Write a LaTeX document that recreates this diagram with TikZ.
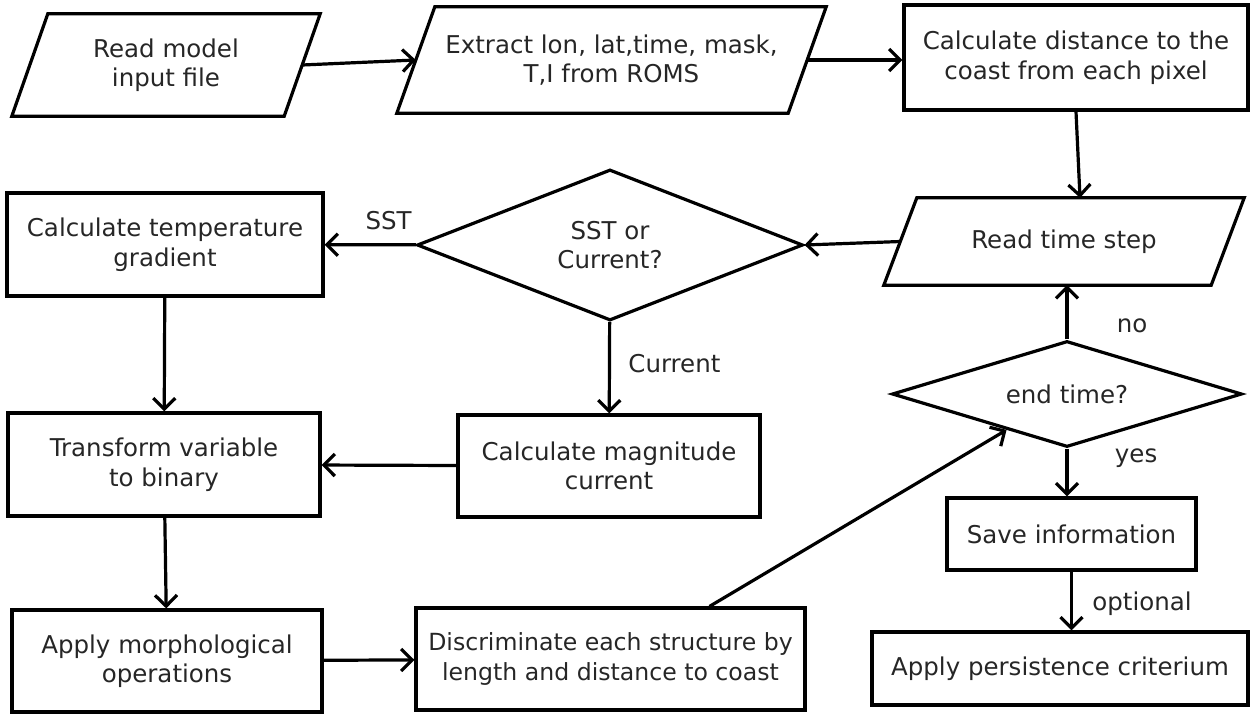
\documentclass[tikz,border=0pt]{standalone}
\usepackage{fontspec}
\setmainfont{DejaVu Sans}
\usetikzlibrary{shapes.geometric,arrows.meta}
\begin{document}
\begin{tikzpicture}[x=1pt,y=-1pt,
  every node/.style={font=\fontsize{24.5}{29.5}\selectfont, text=black!85, align=center},
  proc/.style={draw=black, line width=3.2pt, rectangle, inner sep=0pt},
  iobox/.style={rectangle, inner sep=0pt},
  dec/.style={draw=black, line width=3.2pt, diamond, inner sep=0pt},
  lbl/.style={font=\fontsize{24.5}{29.5}\selectfont},
  outline/.style={line width=3.2pt, line join=miter},
  flow/.style={line width=3.2pt, -{Straight Barb[length=11pt,width=22pt,line width=3.2pt]}}
]
\useasboundingbox (0,0) rectangle (1250,713);
% parallelogram (input/output) nodes
\node[iobox, minimum width=308pt, minimum height=102pt] (rmi) at (166,65) {Read model\\input file};
\draw[outline] ([xshift=36pt]rmi.north west) -- (rmi.north east) -- ([xshift=-36pt]rmi.south east) -- (rmi.south west) -- cycle;
\node[iobox, minimum width=429pt, minimum height=106pt] (ext) at (611.5,60) {Extract lon, lat,time, mask,\\T,I from ROMS};
\draw[outline] ([xshift=38pt]ext.north west) -- (ext.north east) -- ([xshift=-38pt]ext.south east) -- (ext.south west) -- cycle;
\node[iobox, minimum width=360pt, minimum height=87pt] (rts) at (1064,241.5) {Read time step};
\draw[outline] ([xshift=33pt]rts.north west) -- (rts.north east) -- ([xshift=-33pt]rts.south east) -- (rts.south west) -- cycle;

\node[proc, minimum width=344pt, minimum height=105pt] (dist) at (1076,57.5) {Calculate distance to the\\coast from each pixel};
\node[dec, aspect=2.56, minimum width=386pt, minimum height=151pt] (sst) at (610,245) {SST or\\Current?};
\node[proc, minimum width=316pt, minimum height=103pt] (tg) at (165,244.5) {Calculate temperature\\gradient};
\node[proc, minimum width=312pt, minimum height=103pt] (tb) at (164,464.5) {Transform variable\\to binary};
\node[proc, minimum width=302pt, minimum height=102pt] (cm) at (609,466) {Calculate magnitude\\current};
\node[proc, minimum width=310pt, minimum height=102pt] (am) at (167,661) {Apply morphological\\operations};
\node[proc, minimum width=389pt, minimum height=102pt, font=\fontsize{23.6}{29.5}\selectfont] (disc) at (610.5,659) {Discriminate each structure by\\length and distance to coast};
\node[dec, aspect=3.3, minimum width=350pt, minimum height=106pt] (et) at (1067,394) {end time?};
\node[proc, minimum width=249pt, minimum height=72pt] (si) at (1071.5,534) {Save information};
\node[proc, minimum width=376pt, minimum height=73pt] (ap) at (1060,668.5) {Apply persistence criterium};

\draw[flow] ([xshift=-18pt]rmi.east) -- ([xshift=19pt]ext.west);
\draw[flow] ([xshift=-19pt]ext.east) -- (ext.east -| dist.west);
\draw[flow] (dist.south) -- ([xshift=16pt]rts.north);
\draw[flow] ([xshift=16.5pt]rts.west) -- (sst.east);
\draw[flow] (sst) -- (tg) node[lbl, pos=0.3, above=10pt] {SST};
\draw[flow] (sst) -- (cm) node[lbl, pos=0.45, right=14pt] {Current};
\draw[flow] (tg) -- (tb);
\draw[flow] (cm) -- (tb);
\draw[flow] (tb) -- (am);
\draw[flow] (am) -- (disc);
\draw[flow] ([xshift=99pt]disc.north) -- (et);
\draw[flow] (et.north) -- (et.north |- rts.south) node[lbl, pos=0.25, right=45pt] {no};
\draw[flow] (et.south) -- (et.south |- si.north) node[lbl, pos=0.2, right=43pt] {yes};
\draw[flow] (si.south) -- (si.south |- ap.north) node[lbl, pos=0.55, right=16pt] {optional};
\end{tikzpicture}
\end{document}
